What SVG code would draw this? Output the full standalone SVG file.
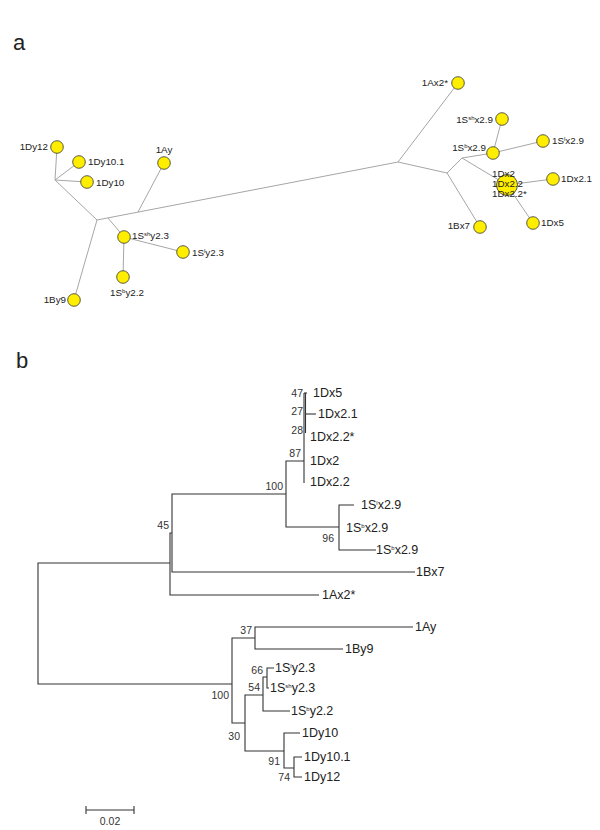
<svg xmlns="http://www.w3.org/2000/svg" width="600" height="830" viewBox="0 0 600 830">
<style>
text{font-family:"Liberation Sans",Arial,sans-serif;fill:#222}
.pl{font-size:22px}
.na{font-size:9.8px}
.lb{font-size:12.5px}
.bs{font-size:10.5px;fill:#333}
.sup{font-size:6px}
.ea{stroke:#a6a6a6;stroke-width:1;fill:none}
.eb{stroke:#333;stroke-width:1.1;fill:none}
.nd{fill:#ffee00;stroke:#333;stroke-width:0.8}
</style>
<rect width="600" height="830" fill="#fff"/>
<text class="pl" x="13" y="50">a</text>
<text class="pl" x="16" y="368">b</text>

<!-- Part a: connectors -->
<g id="connectors-a" class="ea">
<path d="M97,220 L398,162"/>
<path d="M55,180 L97,220"/>
<path d="M55,180 L57,147"/>
<path d="M55,180 L79,162"/>
<path d="M55,180 L87,182"/>
<path d="M97,220 L74,300"/>
<path d="M138,212 L164,163"/>
<path d="M108,218 L124,237"/>
<path d="M124,237 L183,252"/>
<path d="M124,237 L123,277"/>
<path d="M398,162 L458,83"/>
<path d="M398,162 L447,173"/>
<path d="M447,173 L480,227"/>
<path d="M447,173 L462,158"/>
<path d="M462,158 L493,153"/>
<path d="M462,158 L507,185"/>
<path d="M493,153 L502,119"/>
<path d="M493,153 L543,141"/>
<path d="M507,185 L553,179"/>
<path d="M507,185 L533,223"/>
</g>

<!-- Part a: nodes -->
<g id="a-1Dy12"><circle class="nd" cx="57" cy="147" r="6.3"/><text class="na" x="48" y="150" text-anchor="end">1Dy12</text></g>
<g id="a-1Dy10.1"><circle class="nd" cx="79" cy="162" r="6.3"/><text class="na" x="88" y="165">1Dy10.1</text></g>
<g id="a-1Dy10"><circle class="nd" cx="87" cy="182" r="6.3"/><text class="na" x="96" y="186">1Dy10</text></g>
<g id="a-1Ay"><circle class="nd" cx="164" cy="163" r="6.3"/><text class="na" x="164" y="153" text-anchor="middle">1Ay</text></g>
<g id="a-1Sshy2.3"><circle class="nd" cx="124" cy="237" r="6.3"/><text class="na" x="132" y="239">1S<tspan class="sup" dy="-3.5">sh</tspan><tspan dy="3.5">y2.3</tspan></text></g>
<g id="a-1Sly2.3"><circle class="nd" cx="183" cy="252" r="6.3"/><text class="na" x="192" y="256">1S<tspan class="sup" dy="-3.5">l</tspan><tspan dy="3.5">y2.3</tspan></text></g>
<g id="a-1Sby2.2"><circle class="nd" cx="123" cy="277" r="6.3"/><text class="na" x="127" y="296" text-anchor="middle">1S<tspan class="sup" dy="-3.5">b</tspan><tspan dy="3.5">y2.2</tspan></text></g>
<g id="a-1By9"><circle class="nd" cx="74" cy="300" r="6.3"/><text class="na" x="66" y="303" text-anchor="end">1By9</text></g>
<g id="a-1Ax2star"><circle class="nd" cx="458" cy="83" r="6.3"/><text class="na" x="448" y="86" text-anchor="end">1Ax2*</text></g>
<g id="a-1Sshx2.9"><circle class="nd" cx="502" cy="119" r="6.3"/><text class="na" x="493" y="123" text-anchor="end">1S<tspan class="sup" dy="-3.5">sh</tspan><tspan dy="3.5">x2.9</tspan></text></g>
<g id="a-1Slx2.9"><circle class="nd" cx="543" cy="141" r="6.3"/><text class="na" x="552" y="144">1S<tspan class="sup" dy="-3.5">l</tspan><tspan dy="3.5">x2.9</tspan></text></g>
<g id="a-1Sbx2.9"><circle class="nd" cx="493" cy="153" r="6.3"/><text class="na" x="486" y="151" text-anchor="end">1S<tspan class="sup" dy="-3.5">b</tspan><tspan dy="3.5">x2.9</tspan></text></g>
<g id="a-1Dx-cluster"><circle class="nd" cx="507" cy="185" r="10.5"/><text class="na" x="492" y="177">1Dx2</text><text class="na" x="492" y="187">1Dx2.2</text><text class="na" x="492" y="197">1Dx2.2*</text></g>
<g id="a-1Dx2.1"><circle class="nd" cx="553" cy="179" r="6.3"/><text class="na" x="561" y="182">1Dx2.1</text></g>
<g id="a-1Dx5"><circle class="nd" cx="533" cy="223" r="6.3"/><text class="na" x="541" y="226">1Dx5</text></g>
<g id="a-1Bx7"><circle class="nd" cx="480" cy="227" r="6.3"/><text class="na" x="470" y="229" text-anchor="end">1Bx7</text></g>

<!-- Part b: connectors -->
<g id="connectors-b" class="eb">
<path d="M170,563 H38 V684 H232"/>
<path d="M172,533 H170 V595 H319"/>
<path d="M286,494 H172 V572 H415"/>
<path d="M304,461 H286 V527 H339"/>
<path d="M304,393 V483"/>
<path d="M305.5,393 V433"/>
<path d="M304,393 H307"/>
<path d="M305,414 H316"/>
<path d="M354,505 H339 V550 H376"/>
<path d="M255,638 H232 V723 H245"/>
<path d="M413,627 H255 V649 H343"/>
<path d="M263,695 H245 V751 H284"/>
<path d="M267,677 H263 V711 H290"/>
<path d="M274,668 H267 V688 H269"/>
<path d="M300,733 H284 V768 H294"/>
<path d="M302,757 H294 V777 H302"/>
</g>

<!-- Part b: leaves -->
<g id="b-1Dx5"><text class="lb" x="313" y="397">1Dx5</text></g>
<g id="b-1Dx2.1"><text class="lb" x="318" y="418">1Dx2.1</text></g>
<g id="b-1Dx2.2star"><text class="lb" x="310" y="441">1Dx2.2*</text></g>
<g id="b-1Dx2"><text class="lb" x="310" y="465">1Dx2</text></g>
<g id="b-1Dx2.2"><text class="lb" x="310" y="486">1Dx2.2</text></g>
<g id="b-1Slx2.9"><text class="lb" x="361" y="509">1S<tspan class="sup" font-size="7" dy="-4.5">l</tspan><tspan dy="4.5">x2.9</tspan></text></g>
<g id="b-1Sbx2.9a"><text class="lb" x="346" y="532">1S<tspan class="sup" font-size="7" dy="-4.5">b</tspan><tspan dy="4.5">x2.9</tspan></text></g>
<g id="b-1Sbx2.9b"><text class="lb" x="376" y="554">1S<tspan class="sup" font-size="7" dy="-4.5">b</tspan><tspan dy="4.5">x2.9</tspan></text></g>
<g id="b-1Bx7"><text class="lb" x="416" y="576">1Bx7</text></g>
<g id="b-1Ax2star"><text class="lb" x="322" y="599">1Ax2*</text></g>
<g id="b-1Ay"><text class="lb" x="415" y="631">1Ay</text></g>
<g id="b-1By9"><text class="lb" x="345" y="653">1By9</text></g>
<g id="b-1Sly2.3"><text class="lb" x="275" y="672">1S<tspan class="sup" font-size="7" dy="-4.5">l</tspan><tspan dy="4.5">y2.3</tspan></text></g>
<g id="b-1Sshy2.3"><text class="lb" x="270" y="692">1S<tspan class="sup" font-size="7" dy="-4.5">sh</tspan><tspan dy="4.5">y2.3</tspan></text></g>
<g id="b-1Sby2.2"><text class="lb" x="291" y="715">1S<tspan class="sup" font-size="7" dy="-4.5">b</tspan><tspan dy="4.5">y2.2</tspan></text></g>
<g id="b-1Dy10"><text class="lb" x="302" y="737">1Dy10</text></g>
<g id="b-1Dy10.1"><text class="lb" x="304" y="761">1Dy10.1</text></g>
<g id="b-1Dy12"><text class="lb" x="304" y="781">1Dy12</text></g>

<!-- Part b: bootstrap values -->
<g id="b-bootstrap">
<text class="bs" x="303" y="397" text-anchor="end">47</text>
<text class="bs" x="303" y="415" text-anchor="end">27</text>
<text class="bs" x="303" y="434" text-anchor="end">28</text>
<text class="bs" x="301" y="457" text-anchor="end">87</text>
<text class="bs" x="283" y="490" text-anchor="end">100</text>
<text class="bs" x="169" y="529" text-anchor="end">45</text>
<text class="bs" x="334" y="542" text-anchor="end">96</text>
<text class="bs" x="252" y="634" text-anchor="end">37</text>
<text class="bs" x="229" y="699" text-anchor="end">100</text>
<text class="bs" x="263" y="674" text-anchor="end">66</text>
<text class="bs" x="260" y="691" text-anchor="end">54</text>
<text class="bs" x="240" y="740" text-anchor="end">30</text>
<text class="bs" x="280" y="765" text-anchor="end">91</text>
<text class="bs" x="290" y="781" text-anchor="end">74</text>
</g>

<!-- Scale bar -->
<g id="scale-bar">
<path class="eb" d="M86,810 H134 M86,806 V814 M134,806 V814"/>
<text class="bs" x="110" y="825" text-anchor="middle">0.02</text>
</g>
</svg>
